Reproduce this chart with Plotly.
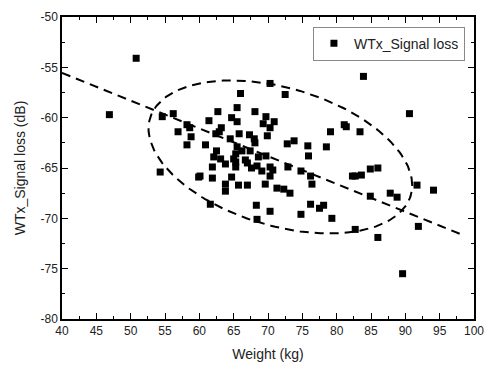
import numpy as np
import plotly.graph_objects as go

weight = [50.8, 46.9, 54.6, 56.2, 58.2, 58.6, 56.9, 58.8, 58.2, 54.3, 59.9, 70.3, 72.5, 66.0, 65.5,
          62.7, 68.1, 69.7, 61.4, 64.7, 65.5, 69.3, 70.9, 70.3, 63.2, 62.9, 62.4, 65.8, 67.3, 69.9,
          68.0, 79.1, 81.4, 81.1, 60.9, 64.5, 68.1, 72.8, 73.8, 75.8, 78.5, 75.9, 62.5, 65.5, 65.3,
          66.2, 67.4, 68.6, 69.7, 63.1, 63.8, 65.0, 61.9, 65.3, 67.0, 70.3, 72.9, 74.8, 83.9, 90.6,
          83.4, 84.9, 86.0, 83.6, 60.1, 61.9, 64.7, 63.8, 65.7, 67.0, 63.8, 68.4, 69.1, 70.7, 70.3,
          69.6, 71.3, 72.3, 73.2, 76.2, 76.4, 61.6, 68.3, 70.3, 68.4, 74.8, 76.2, 77.5, 78.1, 79.3,
          82.3, 82.7, 91.7, 94.1, 87.8, 88.8, 84.9, 91.9, 82.7, 86.0, 89.6, 65.3, 66.7, 67.6, 62.1]
signal_loss = [-54.1, -59.7, -59.9, -59.6, -60.7, -61.0, -61.4, -61.9, -62.7, -65.4, -65.9, -56.6, -57.7, -57.6, -59.0,
               -59.4, -59.4, -59.9, -60.3, -60.0, -60.4, -60.6, -60.4, -61.0, -61.0, -61.4, -61.6, -61.6, -61.7, -61.8,
               -62.1, -61.4, -60.9, -60.7, -62.7, -62.1, -62.5, -62.6, -62.3, -62.8, -62.9, -63.8, -63.3, -62.9, -63.6,
               -63.3, -63.3, -63.9, -63.8, -64.1, -64.6, -64.1, -64.9, -64.9, -64.5, -64.9, -64.9, -65.3, -55.9, -59.6,
               -61.4, -65.1, -65.0, -65.7, -65.8, -66.0, -65.9, -66.6, -66.7, -66.7, -67.3, -64.8, -65.3, -65.2, -65.8,
               -66.6, -67.0, -67.1, -67.5, -65.8, -66.6, -68.6, -68.7, -69.3, -70.1, -69.6, -68.6, -69.0, -68.7, -70.0,
               -65.8, -65.8, -66.7, -67.2, -67.5, -67.9, -67.8, -70.8, -71.1, -71.9, -75.5, -64.4, -64.2, -65.0, -63.9]

# linear fit parameters
fit_intercept_at40 = -55.55
fit_slope = -0.276
fit_x_range = [40, 98.5]

# ellipse parameters (data units)
ell_cx, ell_cy = 71.8, -63.9
ell_rx, ell_ry = 19.2, 7.6
ell_phi = -0.38

xtick_vals = [40, 45, 50, 55, 60, 65, 70, 75, 80, 85, 90, 95, 100]
xtick_text = [str(v) for v in xtick_vals]
ytick_vals = [-80, -75, -70, -65, -60, -55, -50]
ytick_text = [str(v) for v in ytick_vals]

fx = np.array(fit_x_range)
fy = fit_intercept_at40 + fit_slope * (fx - 40)

t = np.linspace(0, 2 * np.pi, 200)
ex = ell_cx + ell_rx * np.cos(t)
ey = ell_cy + ell_ry * np.sin(t + ell_phi)

fig = go.Figure()
fig.add_trace(go.Scatter(x=weight, y=signal_loss, mode='markers', name='WTx_Signal loss',
                         marker=dict(symbol='square', size=7, color='black')))
fig.add_trace(go.Scatter(x=fx, y=fy, mode='lines', showlegend=False,
                         line=dict(color='black', width=2, dash='9px,6px')))
fig.add_trace(go.Scatter(x=ex, y=ey, mode='lines', showlegend=False,
                         line=dict(color='black', width=2, dash='9px,6px')))

font = "Liberation Sans, Arial, sans-serif"
axis_common = dict(showline=True, linecolor='black', linewidth=1.5, mirror='ticks', ticks='inside',
                   ticklen=6, tickwidth=1.2, tickcolor='black', showgrid=False, zeroline=False,
                   tickfont=dict(size=12, color='#222', family=font))
fig.update_layout(
    width=494, height=372,
    margin=dict(l=62, r=16, t=10, b=53),
    paper_bgcolor='white', plot_bgcolor='white',
    font=dict(family=font, color='#222'),
    xaxis=dict(range=[40, 100], tickmode='array', tickvals=xtick_vals, ticktext=xtick_text,
               title=dict(text='Weight (kg)', font=dict(size=14), standoff=12),
               minor=dict(tickmode='linear', tick0=42.5, dtick=5, ticks='inside', ticklen=3,
                          tickcolor='black'),
               **axis_common),
    yaxis=dict(range=[-80, -50], tickmode='array', tickvals=ytick_vals, ticktext=ytick_text,
               title=dict(text='WTx_Signal loss (dB)', font=dict(size=14), standoff=12),
               minor=dict(tickmode='linear', tick0=-77.5, dtick=5, ticks='inside', ticklen=3,
                          tickcolor='black'),
               **axis_common),
    legend=dict(x=0.978, y=0.968, xanchor='right', yanchor='top', bordercolor='#888',
                borderwidth=1, bgcolor='white', font=dict(size=14, family=font, color='#222'),
                itemwidth=30, tracegroupgap=0),
)
fig.write_html("out.html")
